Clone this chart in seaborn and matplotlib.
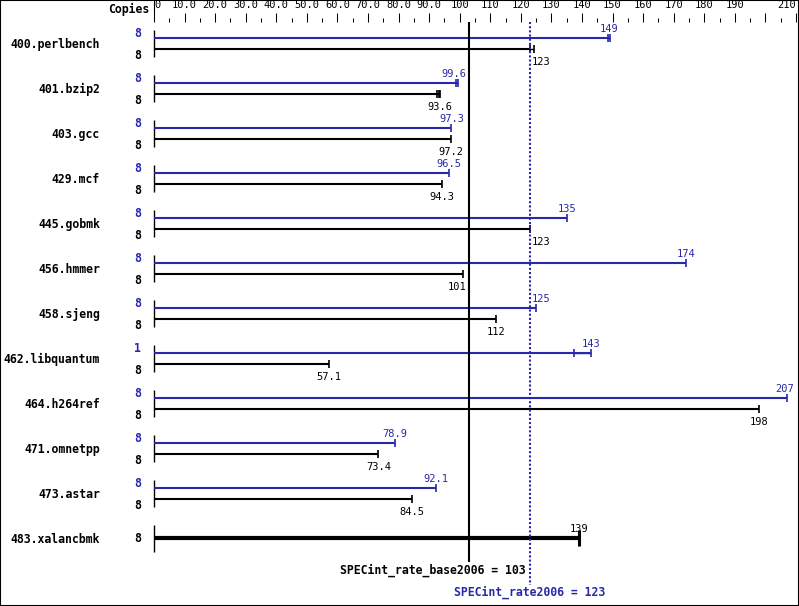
import matplotlib.pyplot as plt
import numpy as np
import pandas as pd
import seaborn as sns
from matplotlib.lines import Line2D
from matplotlib.patches import Rectangle

sns.set_style("white")
plt.rcParams["font.family"] = ["DejaVu Sans Mono"]
plt.rcParams["text.color"] = "black"
plt.rcParams["xtick.color"] = "black"
plt.rcParams["ytick.color"] = "black"
blue = "#2828aa"

benchmarks = [
    "400.perlbench", "401.bzip2", "403.gcc", "429.mcf", "445.gobmk",
    "456.hmmer", "458.sjeng", "462.libquantum", "464.h264ref",
    "471.omnetpp", "473.astar", "483.xalancbmk",
]
base_copies = [8, 8, 8, 8, 8, 8, 8, 8, 8, 8, 8, 8]
peak_copies = [8, 8, 8, 8, 8, 8, 8, 1, 8, 8, 8, None]
base_ratio = [123, 93.6, 97.2, 94.3, 123, 101, 112, 57.1, 198, 73.4, 84.5, 139]
peak_ratio = [149, 99.6, 97.3, 96.5, 135, 174, 125, 143, 207, 78.9, 92.1, None]
base_labels = ["123", "93.6", "97.2", "94.3", "123", "101", "112", "57.1",
               "198", "73.4", "84.5", "139"]
peak_labels = ["149", "99.6", "97.3", "96.5", "135", "174", "125", "143",
               "207", "78.9", "92.1", None]
# individual run results (ticks at the end of each bar)
base_runs = [[123, 124.2], [92.5, 93.1, 93.6], [97.2], [94.3], [123], [101],
             [112], [57.1], [198], [73.4], [84.5], [139]]
peak_runs = [[148.6, 149], [98.7, 99.6], [97.3], [96.5], [135], [174],
             [125], [137.3, 143], [207], [78.9], [92.1], []]

base_overall = 103
peak_overall = 123

tick_values = np.arange(0, 211, 10)
tick_labels = ["0", "10.0", "20.0", "30.0", "40.0", "50.0", "60.0", "70.0",
               "80.0", "90.0", "100", "110", "120", "130", "140", "150",
               "160", "170", "180", "190", "", "210"]

fig = plt.figure(figsize=(7.99, 6.06), dpi=100)
ax = fig.add_axes([154 / 799, 0, 642 / 799, 584 / 606])
ax.set_xlim(0, 210)
ax.set_ylim(12.511, -0.467)
for sp in ax.spines.values():
    sp.set_visible(False)

ax.xaxis.tick_top()
ax.set_xticks(tick_values)
ax.set_xticklabels(tick_labels, fontsize=7.5)
ax.get_xticklabels()[0].set_horizontalalignment("left")
ax.get_xticklabels()[-1].set_horizontalalignment("right")
ax.set_xticks(np.arange(5, 210, 10), minor=True)
ax.tick_params(axis="x", which="major", direction="out", length=6.5,
               width=0.75, pad=2.5, top=True, bottom=False, color="black")
ax.tick_params(axis="x", which="minor", direction="out", length=3,
               width=0.75, top=True, bottom=False, color="black")
ax.set_yticks(range(len(benchmarks)))
ax.set_yticklabels(benchmarks, fontweight="bold", fontsize=8.3)
ax.tick_params(axis="y", length=0, pad=39, left=False)

dy_peak, dy_base = -0.11, 0.13
px = 642 / 210  # pixels per unit


def value_label(v, y, txt, color, above):
    half = len(txt) * 6.5 / 2 / px
    ha, x = "center", v
    if v - half < peak_overall < v + half:
        ha, x = "left", peak_overall + 0.4
    elif v - half < base_overall < v + half:
        ha, x = "right", base_overall - 0.7
    elif v + half > 209.5:
        ha, x = "right", 209.3
    ax.annotate(txt, (x, y), xytext=(0, 4.3 if above else -11.5),
                textcoords="offset points", ha=ha, va="baseline",
                fontsize=7.5, color=color)


def copies_label(n, y, color, va, dy):
    ax.annotate(str(n), (0, y), xytext=(-9.4, dy), textcoords="offset points",
                ha="right", va=va, fontsize=8.3, fontweight="bold",
                color=color)


rows = []
for i, name in enumerate(benchmarks):
    ax.vlines(0, i - 0.29, i + 0.31, color="black", lw=1, clip_on=False)
    if peak_ratio[i] is not None:
        yp, yb = i + dy_peak, i + dy_base
        ax.hlines(yp, 0, peak_ratio[i], color=blue, lw=1.5)
        ax.hlines(yb, 0, base_ratio[i], color="black", lw=1.5)
        ax.hlines(yp, min(peak_runs[i]), max(peak_runs[i]), color=blue, lw=1)
        ax.hlines(yb, min(base_runs[i]), max(base_runs[i]), color="black", lw=1)
        rows += [(r, yp, "peak") for r in peak_runs[i]]
        rows += [(r, yb, "base") for r in base_runs[i]]
        value_label(peak_ratio[i], yp, peak_labels[i], blue, True)
        value_label(base_ratio[i], yb, base_labels[i], "black", False)
        copies_label(peak_copies[i], yp, blue, "baseline", 1.0)
        copies_label(base_copies[i], yb, "black", "top", -0.3)
    else:
        ax.hlines(i, 0, base_ratio[i], color="black", lw=3)
        rows += [(r, i, "both") for r in base_runs[i]]
        value_label(base_ratio[i], i, base_labels[i], "black", True)
        copies_label(base_copies[i], i, "black", "center", 0)

runs = pd.DataFrame(rows, columns=["ratio", "y", "kind"])
sns.scatterplot(data=runs[runs["kind"] != "both"], x="ratio", y="y",
                hue="kind", palette={"peak": blue, "base": "black"},
                marker="|", s=36, linewidth=1.2, legend=False, ax=ax)
sns.scatterplot(data=runs[runs["kind"] == "both"], x="ratio", y="y",
                color="black", marker="|", s=135, linewidth=2.2,
                legend=False, ax=ax)
ax.set_xlabel("")
ax.set_ylabel("")

# overall results
ax.vlines(base_overall, -0.467, 11.53, color="black", lw=1.5)
ax.vlines(peak_overall, -0.467, 12.04, color=blue, lw=1.5,
          linestyles=(0, (1, 1)))
ax.text(121.4, 11.71, "SPECint_rate_base2006 = %d" % base_overall,
        ha="right", va="center", fontsize=8.3, fontweight="bold")
ax.text(peak_overall, 12.2, "SPECint_rate2006 = %d" % peak_overall,
        ha="center", va="center", fontsize=8.3, fontweight="bold", color=blue)

fig.text(149 / 799, 1 - 9 / 606, "Copies", ha="right", va="center",
         fontsize=8.3, fontweight="bold")
fig.add_artist(Line2D([154 / 799, 154 / 799], [1, 1 - 13 / 606],
                      color="black", lw=0.8))
fig.add_artist(Rectangle((0, 0), 1, 1, transform=fig.transFigure,
                         fill=False, lw=1.5, ec="black"))

fig.savefig("out.png", dpi=100)
